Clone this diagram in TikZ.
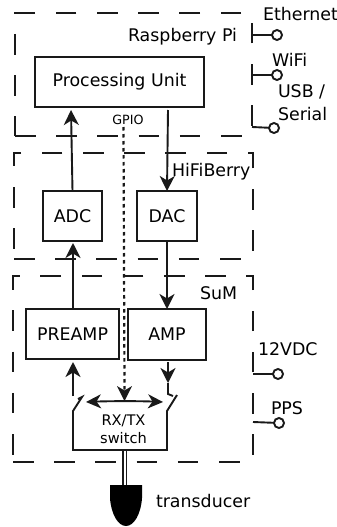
\documentclass[tikz,border=0pt]{standalone}
\usepackage{fontspec}
\setmainfont{DejaVu Sans}
\usetikzlibrary{arrows.meta}
\tikzset{
  x=1pt,y=-1pt,
  every node/.style={inner sep=0pt,outer sep=0pt},
  zone/.style={draw=black!90,line width=1.9pt,dash pattern=on 20.6pt off 20.6pt},
  unit/.style={draw=black!90,line width=1.9pt,rectangle,anchor=north west,font=\fontsize{17.4}{20}\selectfont,align=center},
  lbl/.style={anchor=west,font=\fontsize{17.4}{20}\selectfont},
  tip/.style={Stealth[length=15pt,width=15pt,inset=4.5pt]},
  sig/.style={draw=black!90,line width=1.9pt,-{Stealth[length=15pt,width=15pt,inset=4.5pt]}},
  wire/.style={draw=black!90,line width=1.9pt},
  term/.style={circle,draw=black!90,line width=1.9pt,minimum size=10pt,fill=white},
}
\begin{document}
\begin{tikzpicture}
\useasboundingbox (0,0) rectangle (337,527);
\fill[white] (0,0) rectangle (337,527);
% zones
\draw[zone] (15,136) -- (252,136) -- (252,13) -- (15,13) -- cycle;
\draw[zone] (14,259) -- (253,259) -- (253,153) -- (14,153) -- cycle;
\draw[zone] (13,462) -- (253,462) -- (253,276) -- (13,276) -- cycle;
% units
\node[unit,minimum width=169pt,minimum height=50pt] (pu) at (35,57) {Processing Unit};
\node[unit,minimum width=59pt,minimum height=50pt] (adc) at (43,191) {ADC};
\node[unit,minimum width=60pt,minimum height=50pt] (dac) at (137,191) {DAC};
\node[unit,minimum width=93pt,minimum height=50pt] (preamp) at (26,309) {PREAMP};
\node[unit,minimum width=78pt,minimum height=51pt] (amp) at (128,309) {AMP};
% labels
\node[lbl] (pi) at (128,37) {Raspberry Pi};
\node[lbl] (hifi) at (172,172) {HiFiBerry};
\node[lbl] (sum) at (200,293) {SuM};
\node[lbl] (eth) at (263,14) {Ethernet};
\node[lbl] (wifi) at (272,60) {WiFi};
\node[lbl] (usb) at (278,92) {USB /};
\node[lbl] (ser) at (278,114) {Serial};
\node[lbl] (v12) at (258,349) {12VDC};
\node[lbl] (pps) at (271,408) {PPS};
\node[lbl] (tr) at (156,501) {transducer};
\node[font=\fontsize{12.7}{14}\selectfont] (gpio) at (128,120) {GPIO};
\node[font=\fontsize{14.6}{18}\selectfont,align=center] (sw) at (123.5,429) {RX/TX\\[0pt]switch};
% terminals
\node[term] (t1) at (277,35) {};
\node[term] (t2) at (277,75) {};
\node[term] (t3) at (274,128) {};
\node[term] (t4) at (278,374) {};
\node[term] (t5) at (279,423) {};
\coordinate (s1) at (252,35);
\coordinate (s2) at (252,75);
\coordinate (s3) at (252,127);
\coordinate (s4) at (253,374);
\coordinate (s5) at (253,422);
\foreach \a/\b in {s1/t1,s2/t2,s3/t3,s4/t4,s5/t5} \draw[wire] (\a) -- (\b);
% signal arrows
\coordinate (puin) at (71,110);
\coordinate (puout) at (168,110);
\coordinate (adcin) at (73,243);
\coordinate (ampin) at (167,309);
\coordinate (prein) at (73,362);
\coordinate (swl) at (73,396);
\coordinate (ampout) at (168,362);
\coordinate (swr) at (168,383);
\draw[sig] (72.5,191) -- (puin);
\draw[sig] (puout) -- (167,191);
\draw[sig] (73,309) -- (adcin);
\draw[sig] (dac.south) -- (ampin);
\draw[sig] (swl) -- (prein);
\draw[sig] (ampout) -- (swr);
% switch
\coordinate (bl) at (73,450);
\coordinate (br) at (167,450);
\draw[wire,line join=miter] (168,383) -- (168,394) -- (173,396);
\draw[wire] (177,395) -- (167,411) -- (br) -- (bl) -- (73,411) -- (82,397) -- (78,399);
% rx/tx arrow
\coordinate (al) at (86,402);
\coordinate (ar) at (163,402);
\draw[line width=1.9pt,draw=black!90,{Stealth[length=15pt,width=14pt,inset=4.5pt]}-{Stealth[length=15pt,width=14pt,inset=4.5pt]}] (al) .. controls (110,401) and (140,401) .. (ar);
\draw[line width=2.2pt,draw=black!90,dash pattern=on 3.5pt off 3.5pt] (123.5,127) -- (124.5,390);
\draw[draw=none,fill=black!90] (124.5,401) -- (117,386) -- (124.5,390.5) -- (132,386) -- cycle;
% feed + transducer
\draw[line width=1.6pt,draw=black!90] (123,450) -- (123,485);
\draw[line width=1.6pt,draw=black!90] (126.5,450) -- (126.5,485);
\fill[black] (110,485) -- (142,485) -- (142,498) .. controls (141,514) and (134,526) .. (126,526) .. controls (118,526) and (111,514) .. (110,498) -- cycle;
\end{tikzpicture}
\end{document}
